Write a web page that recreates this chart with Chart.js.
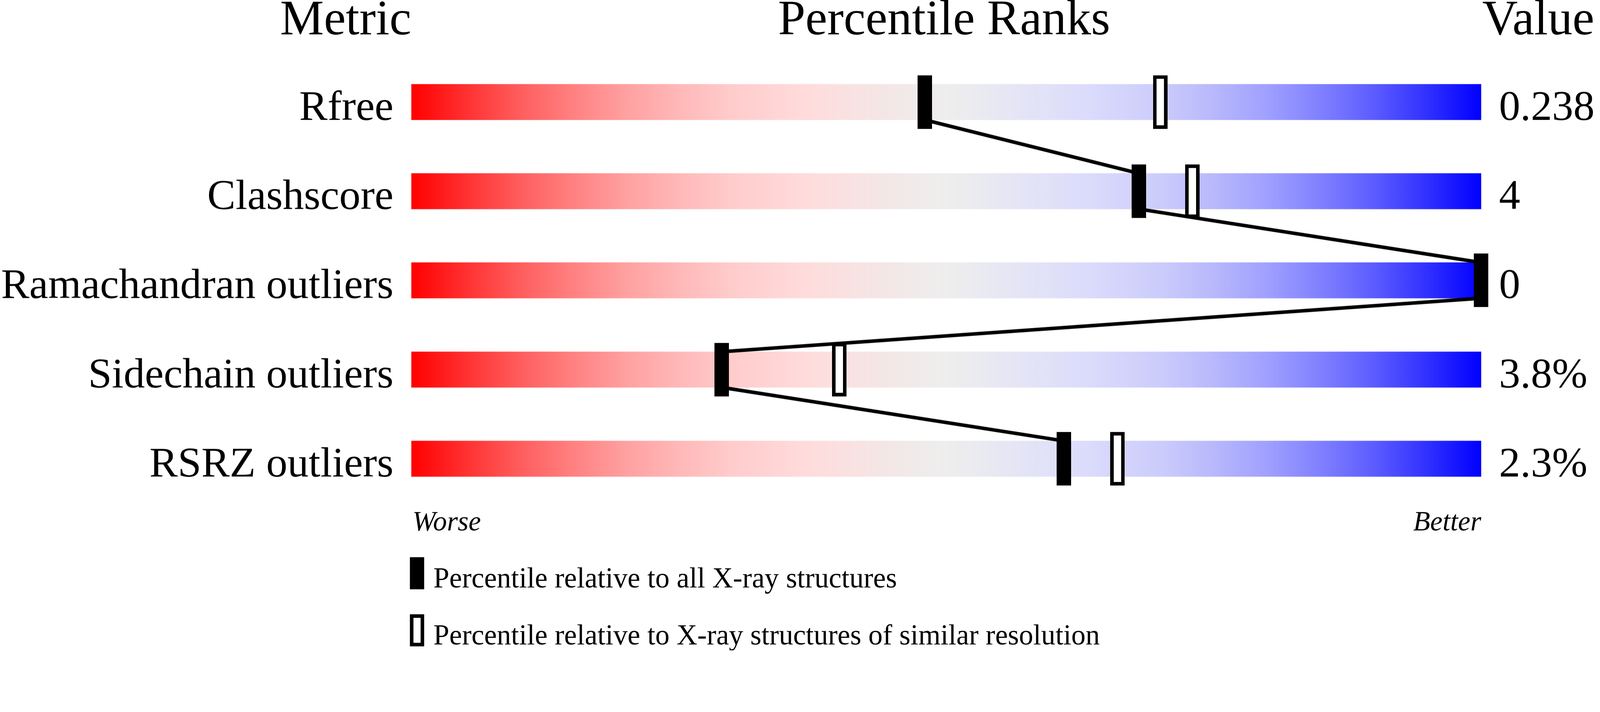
<!DOCTYPE html>
<html lang="en">
<head>
<meta charset="UTF-8">
<title>Percentile Ranks</title>
<script src="https://cdn.jsdelivr.net/npm/chart.js@4"></script>
<style>
  html, body { margin: 0; padding: 0; background: #fff; overflow: hidden; }
  .chart-box { position: relative; }
</style>
</head>
<body>
<div class="chart-box" id="box"><canvas id="slider"></canvas></div>
<script>
// metrics, shown top to bottom
const metrics = ['Rfree', 'Clashscore', 'Ramachandran outliers', 'Sidechain outliers', 'RSRZ outliers'];
const metricValues = ['0.238', '4', '0', '3.8%', '2.3%'];
// percentile vs all X-ray structures (solid marker)
const pctAll = [48, 68, 100, 29, 61];
// percentile vs structures of similar resolution (open marker)
const pctSimilar = [70, 73, null, 40, 66];
const legendLabels = [
    'Percentile relative to all X-ray structures',
    'Percentile relative to X-ray structures of similar resolution'
];

const SERIF = '"Liberation Serif", "DejaVu Serif", serif';
const rowHalf = 0.2; // half bar height in row units (100px bar / 250px row)

// page was designed at 4485x1824, scale everything to the real viewport
const s = Math.min(window.innerWidth / 4485, window.innerHeight / 1824);
const box = document.getElementById('box');
box.style.width = (4485 * s) + 'px';
box.style.height = (1824 * s) + 'px';

const gradientStops = [
    [0, '#ff0000'], [0.05, '#ff3030'], [0.1, '#ff5c5c'], [0.15, '#ff8080'],
    [0.2, '#ffa0a0'], [0.25, '#ffb8b8'], [0.3, '#ffcccc'], [0.37, '#ffdcdc'],
    [0.44, '#f5e6e6'], [0.5, '#eeeeee'], [0.56, '#e6e6f5'], [0.63, '#dcdcfc'],
    [0.7, '#ccccfc'], [0.75, '#b8b8fc'], [0.8, '#a0a0ff'], [0.85, '#8080ff'],
    [0.9, '#5c5cff'], [0.95, '#3030ff'], [1, '#0000ff']
];

function markerCanvas(w, h, border) {
    const c = document.createElement('canvas');
    c.width = Math.round(w * s);
    c.height = Math.round(h * s);
    const g = c.getContext('2d');
    g.fillStyle = '#000';
    g.fillRect(0, 0, c.width, c.height);
    if (border) {
        const b = Math.round(border * s);
        g.fillStyle = '#fff';
        g.fillRect(b, b, c.width - 2 * b, c.height - 2 * b);
    }
    return c;
}
const solidMark = markerCanvas(40, 150, 0);
const openMark = markerCanvas(40, 150, 10);

function sliderGradient(context) {
    const chart = context.chart;
    const xs = chart.scales.x;
    if (!chart.chartArea || !xs) return '#eeeeee';
    const g = chart.ctx.createLinearGradient(xs.getPixelForValue(0), 0, xs.getPixelForValue(100), 0);
    gradientStops.forEach(([pos, col]) => g.addColorStop(pos, col));
    return g;
}

function font(size, style) {
    return (style ? style + ' ' : '') + (size * s) + 'px ' + SERIF;
}

// headers, row labels, values, worse/better and the legend
const sliderText = {
    id: 'sliderText',
    afterDraw(chart) {
        const { ctx, scales: { x, y } } = chart;
        const left = x.getPixelForValue(0);
        const right = x.getPixelForValue(100);
        ctx.save();
        ctx.fillStyle = '#000';
        ctx.textBaseline = 'alphabetic';

        ctx.font = font(138);
        ctx.textAlign = 'right';
        ctx.fillText('Metric', left, 96 * s);
        ctx.textAlign = 'center';
        ctx.fillText('Percentile Ranks', (left + right) / 2 - 6 * s, 96 * s);
        ctx.textAlign = 'left';
        ctx.fillText('Value', right + 3 * s, 96 * s);

        ctx.font = font(119);
        metrics.forEach((m, i) => {
            const base = y.getPixelForValue(i + rowHalf);
            ctx.textAlign = 'right';
            ctx.fillText(m, left - 50 * s, base);
            ctx.textAlign = 'left';
            ctx.fillText(metricValues[i], right + 50 * s, base);
        });

        ctx.font = font(78, 'italic');
        ctx.textAlign = 'left';
        ctx.fillText('Worse', left + 3 * s, 1487 * s);
        ctx.textAlign = 'right';
        ctx.fillText('Better', right, 1487 * s);

        ctx.font = font(80);
        ctx.textAlign = 'left';
        legendLabels.forEach((txt, i) => {
            const top = (1562 + i * 160) * s;
            ctx.fillStyle = '#000';
            ctx.fillRect(left - 4 * s, top, 40 * s, 90 * s);
            if (i === 1) {
                ctx.fillStyle = '#fff';
                ctx.fillRect(left + 6 * s, top + 10 * s, 20 * s, 70 * s);
                ctx.fillStyle = '#000';
            }
            ctx.fillText(txt, left + 62 * s, top + 85 * s);
        });
        ctx.restore();
    }
};

new Chart(document.getElementById('slider'), {
    type: 'scatter',
    data: {
        datasets: [
            {
                label: 'all',
                data: pctAll.map((p, i) => ({ x: p, y: i })),
                pointStyle: solidMark,
                pointRadius: 20 * s,
                clip: false,
                order: 1
            },
            {
                label: 'similar',
                data: pctSimilar.map((p, i) => ({ x: p, y: i })),
                pointStyle: openMark,
                pointRadius: 20 * s,
                clip: false,
                order: 2
            },
            {
                label: 'link',
                data: pctAll.flatMap((p, i) => [{ x: p, y: i - rowHalf }, { x: p, y: i + rowHalf }]),
                showLine: true,
                borderColor: '#000',
                borderWidth: 10 * s,
                pointRadius: 0,
                tension: 0,
                clip: false,
                order: 3
            },
            {
                type: 'bar',
                label: 'range',
                indexAxis: 'y',
                data: metrics.map((m, i) => ({ x: 100, y: i })),
                backgroundColor: sliderGradient,
                borderWidth: 0,
                barThickness: 100 * s,
                order: 4
            }
        ]
    },
    options: {
        responsive: true,
        maintainAspectRatio: false,
        animation: false,
        layout: { padding: { left: 1153 * s, right: 333 * s, top: 161 * s, bottom: 413 * s } },
        scales: {
            x: { type: 'linear', min: 0, max: 100, offset: false, display: false },
            y: { type: 'linear', min: -0.5, max: 4.5, reverse: true, offset: false, display: false }
        },
        plugins: {
            legend: { display: false },
            tooltip: { enabled: false }
        }
    },
    plugins: [sliderText]
});
</script>
</body>
</html>
